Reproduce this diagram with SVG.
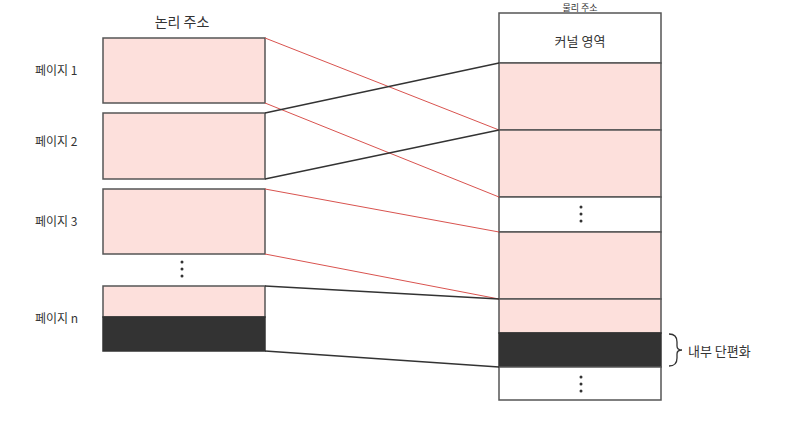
<svg xmlns="http://www.w3.org/2000/svg" width="810" height="426" viewBox="0 0 810 426">
<style>
.pk{fill:#fde0dc;stroke:#555;stroke-width:1.5}
.wh{fill:#fff;stroke:#555;stroke-width:1.5}
.dk{fill:#333;stroke:#333;stroke-width:1.5}
.t{font-family:"Noto Sans CJK KR","Noto Sans",sans-serif;fill:#333}
.r{stroke:#d9534f;stroke-width:1;fill:none}
.b{stroke:#333;stroke-width:1.3;fill:none}
.d{fill:#333}
</style>
<rect width="810" height="426" fill="#fff"/>
<g id="logical-title"><text class="t" x="182" y="27" font-size="14" text-anchor="middle">논리 주소</text></g>
<g id="physical-title"><text class="t" x="580" y="11" font-size="9" text-anchor="middle">물리 주소</text></g>
<g id="page1"><rect class="pk" x="103" y="38" width="162" height="65"/><text class="t" x="35" y="75" font-size="12">페이지 1</text></g>
<g id="page2"><rect class="pk" x="103" y="113" width="162" height="66"/><text class="t" x="35" y="146" font-size="12">페이지 2</text></g>
<g id="page3"><rect class="pk" x="103" y="189" width="162" height="65"/><text class="t" x="35" y="226" font-size="12">페이지 3</text></g>
<g id="left-dots"><circle class="d" cx="182" cy="262" r="1.5"/><circle class="d" cx="182" cy="269" r="1.5"/><circle class="d" cx="182" cy="276" r="1.5"/></g>
<g id="pagen"><rect class="pk" x="103" y="286" width="162" height="31"/><rect class="dk" x="103" y="317" width="162" height="34"/><text class="t" x="35" y="323" font-size="12">페이지 n</text></g>
<g id="kernel"><rect class="wh" x="499" y="13" width="162" height="50"/><text class="t" x="580" y="46" font-size="13" text-anchor="middle">커널 영역</text></g>
<g id="frame1"><rect class="pk" x="499" y="63" width="162" height="67"/></g>
<g id="frame2"><rect class="pk" x="499" y="130" width="162" height="67"/></g>
<g id="frame-gap1"><rect class="wh" x="499" y="197" width="162" height="35"/><circle class="d" cx="581" cy="207" r="1.5"/><circle class="d" cx="581" cy="214" r="1.5"/><circle class="d" cx="581" cy="221" r="1.5"/></g>
<g id="frame3"><rect class="pk" x="499" y="232" width="162" height="67"/></g>
<g id="frame4"><rect class="pk" x="499" y="299" width="162" height="34"/><rect class="dk" x="499" y="333" width="162" height="34"/></g>
<g id="frame-gap2"><rect class="wh" x="499" y="367" width="162" height="33"/><circle class="d" cx="581" cy="377" r="1.5"/><circle class="d" cx="581" cy="384" r="1.5"/><circle class="d" cx="581" cy="391" r="1.5"/></g>
<g id="fragment-label"><path d="M669 334 Q677 334 677 342 L677 346 Q677 350 682 350 Q677 350 677 354 L677 358 Q677 366 669 366" fill="none" stroke="#333" stroke-width="1.3"/><text class="t" x="688" y="356" font-size="13">내부 단편화</text></g>
<g id="connectors">
<line class="r" x1="265" y1="38" x2="499" y2="130"/>
<line class="r" x1="265" y1="103" x2="499" y2="197"/>
<line class="b" x1="265" y1="113" x2="499" y2="63"/>
<line class="b" x1="265" y1="179" x2="499" y2="130"/>
<line class="r" x1="265" y1="189" x2="499" y2="232"/>
<line class="r" x1="265" y1="254" x2="499" y2="299"/>
<line class="b" x1="265" y1="286" x2="499" y2="299"/>
<line class="b" x1="265" y1="351" x2="499" y2="367"/>
</g>
</svg>
